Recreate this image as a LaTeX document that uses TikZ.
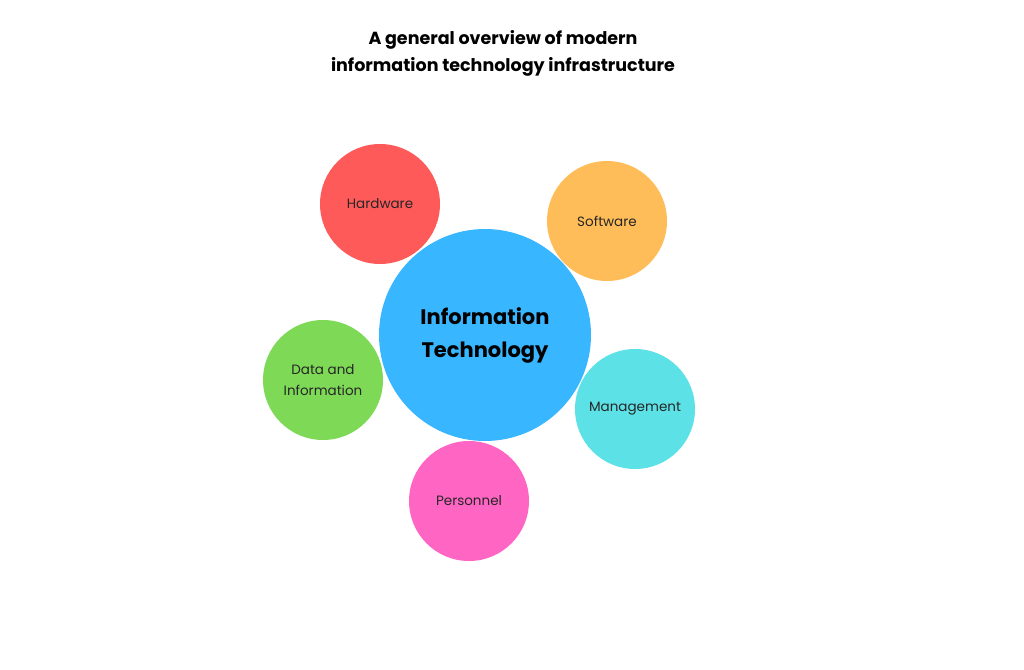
\documentclass[tikz,border=0pt]{standalone}
\usepackage{fontspec}
\setmainfont{Poppins}
\definecolor{cred}{HTML}{FF5A5A}
\definecolor{corange}{HTML}{FFBD59}
\definecolor{cblue}{HTML}{38B6FF}
\definecolor{cgreen}{HTML}{7ED957}
\definecolor{ccyan}{HTML}{5CE1E6}
\definecolor{cpink}{HTML}{FF66C4}
\begin{document}
\begin{tikzpicture}[x=1pt,y=-1pt,
  small/.style={circle,minimum size=120pt,inner sep=0pt,align=center,font=\fontsize{13.5}{21}\selectfont,text=black!85},
  big/.style={circle,minimum size=212pt,inner sep=0pt,align=center,font=\fontsize{21}{33}\selectfont\bfseries}]
\useasboundingbox (0,0) rectangle (1024,669);
\node[font=\fontsize{17.5}{27}\selectfont\bfseries,align=center] (title) at (503,53) {A general overview of modern\\information technology infrastructure};
\node[small,fill=cred] (hw) at (380,204) {Hardware};
\node[small,fill=corange] (sw) at (607,221) {Software};
\node[small,fill=cgreen] (data) at (323,380) {Data and\\Information};
\node[small,fill=ccyan] (mg) at (635,409) {Management};
\node[small,fill=cpink] (ps) at (469,501) {Personnel};
\node[big,fill=cblue] (it) at (485,335) {Information\\Technology};
\end{tikzpicture}
\end{document}
